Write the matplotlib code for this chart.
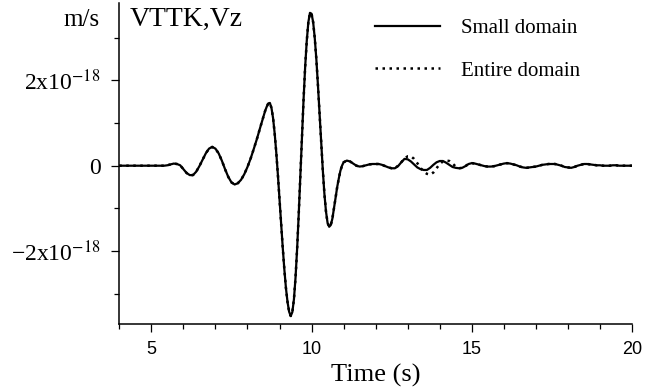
import numpy as np
import matplotlib
matplotlib.use('Agg')
import matplotlib.pyplot as plt

# time axis (s): 0.1 s samples, 0.05 s through the main pulse
time = np.round(np.concatenate([np.arange(4.0, 8.45, 0.1),
                                np.arange(8.5, 10.96, 0.05),
                                np.arange(11.0, 20.01, 0.1)]), 2)

# vertical velocity, small domain (units of 1e-18 m/s)
small_early = [
    # 4.0 - 5.9
    0.00, 0.00, 0.00, 0.00, 0.00, 0.00, 0.00, 0.00, 0.00, 0.00,
    0.00, 0.00, 0.00, 0.00, 0.00, 0.01, 0.03, 0.05, 0.04, 0.01,
    # 6.0 - 7.9
    -0.08, -0.17, -0.22, -0.22, -0.14, -0.01, 0.14, 0.29, 0.40, 0.44,
    0.40, 0.29, 0.12, -0.08, -0.26, -0.39, -0.44, -0.41, -0.33, -0.20,
    # 8.0 - 8.4
    -0.03, 0.17, 0.40, 0.64, 0.90,
]
small_pulse = [
    # 8.50 - 8.95
    1.15, 1.28, 1.38, 1.46, 1.47, 1.35, 1.11, 0.75, 0.30, -0.22,
    # 9.00 - 9.45
    -0.79, -1.36, -1.91, -2.42, -2.86, -3.19, -3.42, -3.52, -3.43, -3.13,
    # 9.50 - 9.95
    -2.62, -1.94, -1.13, -0.24, 0.67, 1.54, 2.31, 2.92, 3.36, 3.58,
    # 10.00 - 10.45
    3.56, 3.36, 2.99, 2.49, 1.88, 1.22, 0.54, -0.09, -0.65, -1.07,
    # 10.50 - 10.95
    -1.34, -1.43, -1.39, -1.24, -1.00, -0.75, -0.50, -0.30, -0.12, 0.00,
]
small_tail = [
    # 11.0 - 11.9
    0.08, 0.12, 0.10, 0.05, 0.00, -0.02, -0.01, 0.01, 0.03, 0.04,
    # 12.0 - 13.9
    0.04, 0.04, 0.02, -0.01, -0.04, -0.06, -0.06, -0.01, 0.08, 0.16,
    0.15, 0.10, 0.03, -0.04, -0.08, -0.10, -0.10, -0.05, 0.02, 0.08,
    # 14.0 - 15.9
    0.11, 0.11, 0.07, 0.02, -0.03, -0.05, -0.06, -0.05, -0.01, 0.04,
    0.06, 0.05, 0.03, 0.01, -0.01, -0.02, -0.02, -0.01, 0.01, 0.03,
    # 16.0 - 17.9
    0.05, 0.06, 0.05, 0.03, 0.01, -0.02, -0.04, -0.05, -0.04, -0.03,
    -0.02, 0.00, 0.02, 0.03, 0.04, 0.04, 0.04, 0.02, 0.00, -0.03,
    # 18.0 - 20.0
    -0.04, -0.05, -0.03, 0.00, 0.02, 0.04, 0.04, 0.03, 0.02, 0.01,
    0.01, 0.00, 0.00, 0.00, 0.01, 0.01, 0.00, 0.00, 0.00, 0.00, 0.00,
]
small = small_early + small_pulse + small_tail

# entire domain: same as small domain except around 12.7 - 14.6 s
entire_patch_t0 = 12.7
entire_patch = [0.00, 0.08, 0.17, 0.22, 0.22, 0.16, 0.06, -0.05, -0.14, -0.19,
                -0.21, -0.16, -0.06, 0.04, 0.10, 0.12, 0.11, 0.05, -0.02, -0.06]
entire = list(small)
i0 = int(np.argmin(np.abs(time - entire_patch_t0)))
entire[i0:i0 + len(entire_patch)] = entire_patch

scale = 1e-18
small = np.array(small) * scale
entire = np.array(entire) * scale

yticks = [-2e-18, 0, 2e-18]
ytick_labels = ['\u22122x10$^{-18}$', '0', '2x10$^{-18}$']
xticks = [5, 10, 15, 20]

plt.rcParams['font.family'] = 'Liberation Serif'
plt.rcParams['mathtext.fontset'] = 'stix'

fig = plt.figure(figsize=(6.69, 3.92), dpi=100)
ax = fig.add_axes([0.1783, 0.1735, 0.7664, 0.818])

ax.plot(time, small, color='black', lw=1.6, label='Small domain')
ax.plot(time, entire, color='black', lw=1.8, linestyle=(0, (1, 1.8)), label='Entire domain')

ax.set_xlim(4, 20)
ax.set_ylim(-3.707e-18, 3.803e-18)

ax.spines['top'].set_visible(False)
ax.spines['right'].set_visible(False)
ax.spines['left'].set_linewidth(1.1)
ax.spines['bottom'].set_linewidth(1.1)

ax.set_xticks(xticks)
ax.set_xticks(np.arange(4, 21, 1), minor=True)
ax.set_yticks(yticks)
ax.set_yticklabels(ytick_labels)
ax.set_yticks(np.arange(-3e-18, 3.5e-18, 1e-18), minor=True)
ax.tick_params(which='major', direction='out', length=5.5, width=0.9)
ax.tick_params(which='minor', direction='out', length=3.3, width=0.9)
ax.tick_params(axis='y', labelsize=17, pad=8)
ax.tick_params(axis='x', labelsize=13, pad=7)
for lab in ax.get_xticklabels():
    lab.set_family('Liberation Sans')

ax.set_xlabel('Time (s)', fontsize=19, labelpad=4)

fig.text(100 / 669, 1 - 20 / 392, 'm/s', fontsize=18, ha='right', va='center')
ax.text(0.02, 1 - 16 / 392 / 0.818, 'VTTK,Vz', transform=ax.transAxes,
        fontsize=20, ha='left', va='center')

ax.legend(loc='upper left', bbox_to_anchor=(365 / 669, 1 - 8 / 392),
          bbox_transform=fig.transFigure, frameon=False, fontsize=15,
          handlelength=3.1, handletextpad=1.0, labelspacing=1.1, borderpad=0)

fig.savefig('out.png', dpi=100)
